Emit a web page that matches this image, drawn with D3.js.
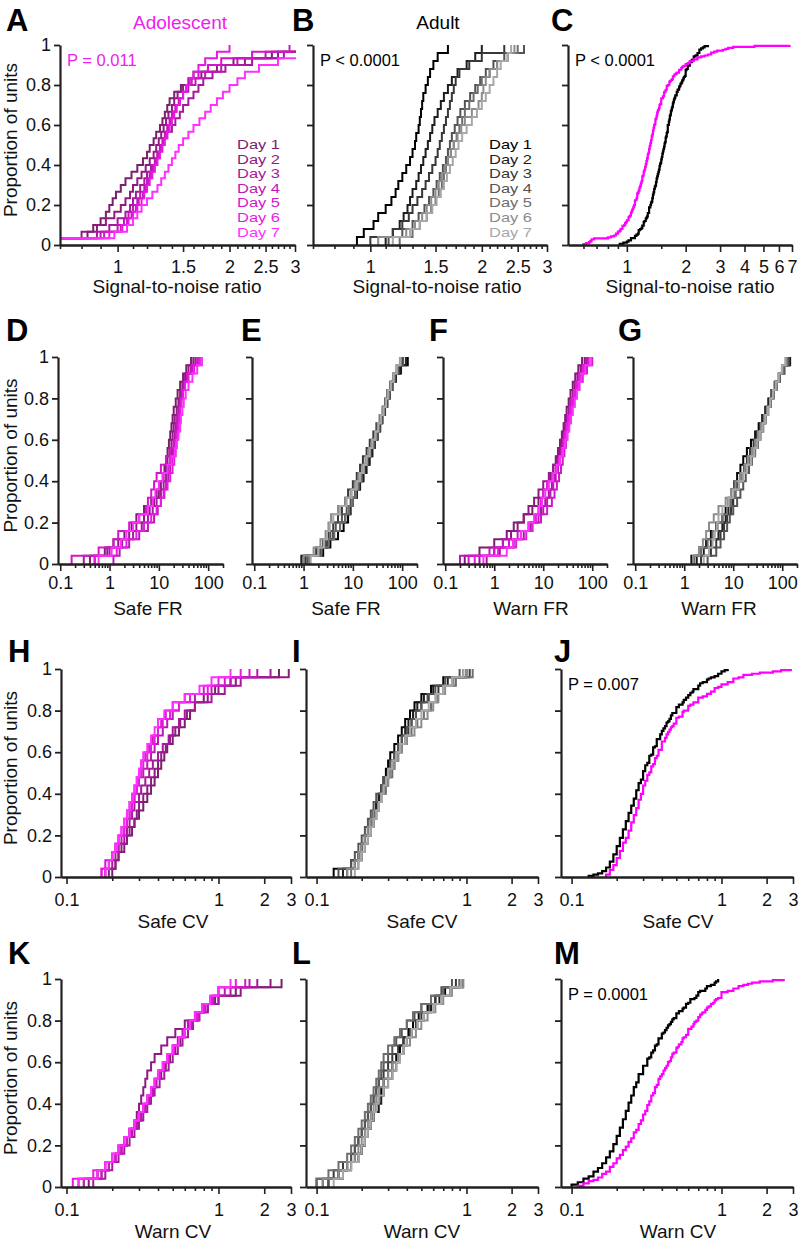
<!DOCTYPE html>
<html><head><meta charset="utf-8">
<script src="https://cdn.jsdelivr.net/npm/d3@7"></script>
<style>
body{margin:0;background:#fff}
svg{display:block}
text{font-family:"Liberation Sans",Arial,Helvetica,sans-serif}
</style>
</head><body>
<svg id="c" width="800" height="1243"></svg>
<script>
// ---------------- DATA ----------------
const dayLabels = ['Day 1','Day 2','Day 3','Day 4','Day 5','Day 6','Day 7'];
const groupTitles = ['Adolescent','Adult'];
const propTicks = [0,0.2,0.4,0.6,0.8,1];
const snrTicks = [1,1.5,2,2.5,3];
const snrPoolTicks = [1,2,3,4,5,6,7];
const frTicks = [0.1,1,10,100];
const cvTicks = [0.1,1,2,3];
const pA = 'P = 0.011', pB = 'P < 0.0001', pC = 'P < 0.0001', pJ = 'P = 0.007', pM = 'P = 0.0001';

// Signal-to-noise ratio, adolescent days 1-7
const adoSNR = [
 [0.62,0.83,0.86,0.9,0.93,0.95,0.97,0.99,1.02,1.05,1.09,1.13,1.17,1.2,1.22,1.25,1.27,1.3,1.32,1.34,1.36,1.38,1.42,1.48,1.55,1.6,1.75,2.05,2.6,3.2],
 [0.65,0.8,0.88,0.93,0.98,1.02,1.05,1.08,1.1,1.13,1.16,1.19,1.22,1.25,1.27,1.29,1.31,1.33,1.35,1.37,1.4,1.42,1.45,1.5,1.58,1.68,1.85,2.2,2.7,3.1],
 [0.6,0.88,0.95,1.0,1.05,1.08,1.1,1.12,1.15,1.18,1.2,1.23,1.26,1.28,1.3,1.33,1.36,1.4,1.43,1.47,1.5,1.55,1.6,1.65,1.7,1.8,1.95,2.3,2.8,3.5],
 [0.66,0.9,1.0,1.04,1.07,1.1,1.13,1.15,1.18,1.2,1.22,1.24,1.26,1.28,1.3,1.32,1.34,1.36,1.38,1.4,1.43,1.46,1.5,1.55,1.62,1.72,1.9,2.1,2.5,3.3],
 [0.68,0.92,1.02,1.06,1.09,1.12,1.14,1.17,1.19,1.21,1.23,1.25,1.27,1.29,1.31,1.33,1.35,1.37,1.39,1.41,1.44,1.47,1.5,1.53,1.58,1.65,1.75,1.9,2.3,2.9],
 [0.64,0.95,1.03,1.07,1.1,1.13,1.16,1.18,1.2,1.22,1.24,1.26,1.28,1.3,1.32,1.34,1.36,1.38,1.4,1.42,1.44,1.47,1.5,1.53,1.56,1.6,1.65,1.72,1.85,2.0],
 [0.66,0.98,1.06,1.1,1.13,1.16,1.2,1.24,1.28,1.31,1.34,1.37,1.4,1.43,1.46,1.5,1.55,1.6,1.66,1.72,1.78,1.85,1.92,2.0,2.1,2.2,2.4,2.7,4.5,6.8]
];
// Signal-to-noise ratio, adult days 1-7
const adultSNR = [
 [0.92,0.96,1.02,1.05,1.1,1.14,1.17,1.19,1.22,1.25,1.28,1.3,1.32,1.33,1.35,1.36,1.37,1.38,1.39,1.41,1.43,1.45,1.48,1.52,1.62],
 [1.1,1.15,1.2,1.23,1.26,1.28,1.3,1.33,1.35,1.37,1.39,1.41,1.43,1.45,1.47,1.49,1.52,1.55,1.58,1.62,1.66,1.72,1.82,1.92,2.0],
 [1.0,1.15,1.22,1.27,1.3,1.34,1.38,1.41,1.44,1.47,1.5,1.52,1.54,1.56,1.58,1.6,1.62,1.64,1.66,1.68,1.7,1.74,1.85,2.0,2.3],
 [1.12,1.22,1.3,1.35,1.4,1.44,1.48,1.51,1.54,1.57,1.6,1.62,1.64,1.66,1.69,1.72,1.75,1.8,1.86,1.92,1.98,2.05,2.15,2.3,2.6],
 [1.2,1.3,1.36,1.42,1.46,1.5,1.53,1.56,1.58,1.6,1.62,1.65,1.68,1.71,1.74,1.77,1.8,1.85,1.9,1.95,2.0,2.1,2.2,2.35,2.5],
 [1.05,1.25,1.32,1.38,1.42,1.46,1.5,1.53,1.56,1.59,1.62,1.65,1.68,1.72,1.76,1.8,1.88,1.96,2.0,2.02,2.05,2.1,2.2,2.35,2.45],
 [1.15,1.28,1.36,1.42,1.47,1.51,1.55,1.58,1.61,1.64,1.67,1.7,1.73,1.77,1.82,1.88,1.94,2.0,2.05,2.1,2.15,2.2,2.25,2.35,2.4]
];
// Safe FR
const adoSafeFR = [
 [0.4,0.8,1.2,2.0,2.8,3.5,5.0,7.0,9.0,10.5,12,13,14,15,16,17,18,19,20,22,24,27,31,36,45],
 [0.5,0.9,1.5,2.5,3.5,5,6.5,8,10,11,12.5,14,15,16.5,18,19,20,21,23,25,27,30,34,40,50],
 [0.3,1.0,1.8,3.0,4.5,6,7.5,9,11,12.5,14,15.5,17,18.5,20,21,22,23.5,25,27,29,32,38,45,55],
 [1.2,1.6,2.5,4,6,8,9.5,11,12.5,14,15.5,17,18.5,20,21,22,23,24,26,28,30,33,37,45,60],
 [0.17,0.6,1.2,1.5,2.5,4,5.5,6,7,8,9,11,14,17,20,22,24,26,27,28,30,33,38,48,62],
 [0.5,1.4,2.2,3.5,5,7,9,11,13,15,17,19,20.5,22,23,24,25,26,27,29,31,34,40,52,68],
 [0.6,1.1,1.7,2.2,3,4,6,7.5,8.5,10,12,15,18,21,23,25,27,28,30,32,35,40,48,60,75]
];
const adultSafeFR = [
 [1.0,2.5,3.5,5,6.5,8,9,10,12,14,16,18,21,24,27,30,34,38,43,48,55,62,72,90,130],
 [0.9,2.2,3,4,5.5,7,8.5,10,12,14,16.5,19,22,25,28,32,36,40,45,50,56,64,75,95,120],
 [1.1,1.8,2.5,3.2,4,5,6,7,8,10,12,14,16,19,22,26,30,35,40,45,50,57,66,80,100],
 [1.2,2.0,2.8,3.5,4.5,6,7.5,9,11,13,15,17,20,23,27,31,35,39,44,50,56,63,72,85,105],
 [1.3,2.3,3.2,4.2,5.5,7,8.5,10,11.5,13,15,17,19.5,22,25,29,33,37,42,47,53,60,68,80,95],
 [1.0,1.6,2.2,2.8,3.2,3.6,5,7,9,11,13,15.5,18,21,24,28,32,36,41,46,52,58,66,76,90],
 [1.4,2.0,2.6,3.0,3.4,4,5.5,7.5,9.5,12,14,16.5,19,22,25,29,33,37,42,47,52,59,67,78,92]
];
// Warn FR
const adoWarnFR = [
 [0.25,0.5,1.0,1.8,2.5,4,6,8,10,12,14,16,18,20,22,24,26,28,30,33,36,40,45,52,62],
 [0.5,1.0,1.5,2.2,3,4,5,6.5,8,10,13,16,19,21,23,25,27,30,33,36,40,44,50,58,70],
 [0.7,1.3,2.5,4,5.5,7,9,11,13,15,17,19,21,23,25,27,29,31,34,37,41,46,52,62,75],
 [0.2,0.8,1.5,3,5,8,10,12,14,16,18,20,22,24,26,28,30,33,36,40,45,50,58,68,80],
 [0.3,1.0,2.0,3.5,6,9,12,15,17,19,21,23,25,27,29,31,33,36,39,43,48,55,64,78,100],
 [0.4,1.2,2.8,4.5,6,7,8,9,10,12,15,18,21,24,26,28,30,32,35,38,42,47,54,65,85],
 [0.6,1.8,2.4,3.5,5,6.5,8,9.5,11,13,16,19,22,25,28,31,34,37,40,44,48,53,60,72,95]
];
const adultWarnFR = [
 [1.4,2.0,2.8,3.5,4.5,6,7,8,9,10.5,12,14,16,19,23,28,33,39,45,52,60,70,85,105,140],
 [1.8,2.5,3.5,5,6,7,8,9.5,11,13,15,17,20,24,28,33,38,44,50,57,65,75,90,110,145],
 [2.2,3.5,4.5,5.5,6.5,7.5,9,10,11,12,14,16.5,19,22,26,30,35,41,47,55,63,72,85,100,130],
 [3.0,4.5,5.5,6.5,7.5,8.5,10,12,14,16,18,21,24,28,32,36,41,46,52,59,67,77,90,110,135],
 [1.6,2.2,3.0,3.8,4.8,6.0,7.5,9,11,13,15,18,21,25,29,34,39,45,51,58,66,76,88,105,125],
 [1.5,2.0,2.4,2.8,3.2,4,5,7,9,11,14,17,20,24,28,32,37,43,49,56,64,74,86,100,120],
 [2.5,3.2,3.8,4.2,4.6,5,6,8,10,13,16,19,23,27,31,35,40,45,51,57,64,73,84,98,115]
];
// Safe CV
const adoSafeCV = [
 [0.2,0.21,0.22,0.24,0.25,0.27,0.28,0.3,0.32,0.34,0.36,0.38,0.4,0.42,0.44,0.46,0.5,0.55,0.6,0.65,0.7,0.8,0.95,1.2,2.5],
 [0.19,0.21,0.22,0.23,0.25,0.26,0.28,0.29,0.3,0.32,0.34,0.36,0.38,0.4,0.42,0.45,0.48,0.52,0.56,0.62,0.7,0.85,1.0,1.3,2.9],
 [0.18,0.2,0.21,0.22,0.24,0.25,0.26,0.27,0.28,0.3,0.31,0.33,0.35,0.37,0.4,0.43,0.47,0.5,0.55,0.6,0.7,0.9,1.1,1.4,2.2],
 [0.18,0.19,0.2,0.22,0.23,0.24,0.25,0.26,0.27,0.28,0.29,0.3,0.32,0.34,0.36,0.38,0.4,0.43,0.46,0.5,0.55,0.7,0.9,1.2,1.8],
 [0.17,0.18,0.2,0.21,0.22,0.23,0.24,0.25,0.26,0.27,0.28,0.29,0.3,0.31,0.33,0.35,0.37,0.4,0.42,0.45,0.5,0.6,0.8,1.1,1.6],
 [0.17,0.19,0.2,0.21,0.22,0.24,0.25,0.26,0.27,0.28,0.29,0.3,0.31,0.32,0.34,0.36,0.38,0.4,0.43,0.48,0.55,0.65,0.85,1.0,1.4],
 [0.18,0.19,0.2,0.21,0.22,0.23,0.24,0.25,0.26,0.27,0.28,0.29,0.3,0.31,0.32,0.34,0.36,0.38,0.4,0.44,0.5,0.6,0.75,0.9,1.2]
];
const adultSafeCV = [
 [0.13,0.17,0.19,0.2,0.21,0.22,0.23,0.24,0.25,0.26,0.27,0.28,0.29,0.3,0.31,0.33,0.35,0.37,0.39,0.42,0.45,0.5,0.58,0.7,0.95],
 [0.15,0.18,0.19,0.2,0.21,0.22,0.23,0.24,0.25,0.26,0.27,0.28,0.3,0.31,0.33,0.35,0.37,0.39,0.41,0.44,0.47,0.52,0.6,0.75,1.0],
 [0.16,0.18,0.2,0.21,0.22,0.23,0.24,0.25,0.26,0.27,0.28,0.3,0.31,0.33,0.35,0.37,0.39,0.41,0.43,0.46,0.5,0.56,0.65,0.8,1.05],
 [0.14,0.17,0.18,0.19,0.2,0.21,0.22,0.23,0.24,0.25,0.27,0.28,0.3,0.31,0.33,0.35,0.37,0.4,0.43,0.46,0.5,0.55,0.62,0.72,0.9],
 [0.17,0.19,0.2,0.21,0.22,0.23,0.24,0.25,0.26,0.27,0.29,0.3,0.32,0.33,0.35,0.37,0.4,0.43,0.47,0.52,0.58,0.64,0.7,0.85,1.1],
 [0.16,0.18,0.19,0.2,0.21,0.22,0.23,0.24,0.26,0.27,0.28,0.3,0.31,0.33,0.35,0.37,0.4,0.45,0.5,0.55,0.6,0.65,0.72,0.82,1.0],
 [0.18,0.19,0.2,0.21,0.22,0.23,0.24,0.25,0.26,0.27,0.28,0.29,0.3,0.32,0.34,0.36,0.39,0.42,0.46,0.5,0.56,0.62,0.7,0.8,0.95]
];
// Warn CV
const adoWarnCV = [
 [0.14,0.17,0.19,0.21,0.23,0.25,0.27,0.29,0.31,0.33,0.35,0.37,0.39,0.42,0.45,0.48,0.52,0.56,0.6,0.66,0.72,0.8,0.95,1.3,2.6],
 [0.13,0.16,0.18,0.2,0.22,0.24,0.26,0.28,0.29,0.3,0.31,0.32,0.33,0.34,0.36,0.38,0.42,0.46,0.52,0.6,0.7,0.85,1.0,1.4,2.2],
 [0.15,0.18,0.2,0.22,0.24,0.26,0.28,0.3,0.32,0.34,0.36,0.38,0.41,0.44,0.47,0.5,0.54,0.58,0.63,0.68,0.75,0.85,1.0,1.2,1.8],
 [0.12,0.16,0.19,0.21,0.23,0.25,0.27,0.29,0.31,0.33,0.35,0.37,0.39,0.41,0.44,0.47,0.5,0.54,0.58,0.63,0.7,0.78,0.9,1.1,1.6],
 [0.13,0.17,0.19,0.21,0.23,0.25,0.26,0.28,0.3,0.32,0.34,0.36,0.38,0.4,0.43,0.46,0.5,0.55,0.6,0.66,0.74,0.82,0.92,1.0,1.5],
 [0.11,0.15,0.18,0.2,0.22,0.24,0.26,0.28,0.3,0.32,0.34,0.36,0.38,0.41,0.44,0.47,0.51,0.55,0.6,0.65,0.72,0.8,0.9,1.0,1.3],
 [0.12,0.16,0.18,0.2,0.22,0.24,0.26,0.28,0.3,0.32,0.34,0.36,0.38,0.4,0.43,0.46,0.5,0.55,0.6,0.65,0.7,0.78,0.88,1.0,1.2]
];
const adultWarnCV = [
 [0.12,0.15,0.17,0.19,0.2,0.21,0.22,0.23,0.24,0.25,0.26,0.27,0.28,0.3,0.32,0.34,0.36,0.38,0.41,0.44,0.48,0.55,0.62,0.72,0.95],
 [0.11,0.14,0.16,0.18,0.2,0.21,0.22,0.23,0.24,0.26,0.27,0.28,0.3,0.32,0.34,0.36,0.38,0.4,0.43,0.47,0.52,0.58,0.66,0.78,0.9],
 [0.1,0.13,0.15,0.17,0.18,0.19,0.2,0.21,0.22,0.23,0.24,0.25,0.26,0.28,0.3,0.32,0.35,0.38,0.42,0.46,0.5,0.56,0.62,0.7,0.85],
 [0.12,0.14,0.16,0.17,0.18,0.19,0.2,0.21,0.22,0.23,0.24,0.25,0.26,0.27,0.28,0.3,0.32,0.34,0.37,0.4,0.45,0.5,0.58,0.68,0.8],
 [0.1,0.12,0.14,0.16,0.17,0.18,0.19,0.2,0.21,0.22,0.23,0.24,0.25,0.26,0.27,0.28,0.3,0.33,0.36,0.4,0.44,0.5,0.58,0.7,0.9],
 [0.11,0.14,0.16,0.18,0.19,0.2,0.21,0.22,0.23,0.24,0.25,0.26,0.28,0.3,0.32,0.35,0.38,0.42,0.46,0.5,0.55,0.62,0.7,0.8,0.95],
 [0.13,0.15,0.17,0.19,0.2,0.21,0.22,0.23,0.24,0.25,0.26,0.28,0.3,0.32,0.34,0.36,0.38,0.4,0.43,0.47,0.52,0.6,0.68,0.78,0.92]
];

// ---------------- STYLE ----------------
const adoColors = ['#7a1f6c','#8e1b82','#a51a9b','#bd18b4','#d316cb','#e81ae2','#ff30ff'];
const adultColors = ['#000000','#1e1e1e','#383838','#545454','#6e6e6e','#8c8c8c','#a8a8a8'];
const MAG = '#ff00ff', PMAG = '#ee22ee', AX = '#231f20';
const FONT = '"Liberation Sans",Arial,Helvetica,sans-serif';

const svg = d3.select('#c');
const defs = svg.append('defs');
const pool = arrs => [].concat(...arrs);

function ecdf(vals){
  const s = vals.slice().sort(d3.ascending), n = s.length;
  const pts = [[s[0],0]];
  s.forEach((v,i)=>pts.push([v,(i+1)/n]));
  return pts;
}
function range01(a,b,step){ return d3.range(a,b+1e-9,step).map(v=>+v.toFixed(3)); }
const snrMinor = range01(0.7,3,0.1).filter(v=>!snrTicks.includes(v));
const frMinor = [];
[0.1,1,10,100].forEach(d=>{ for(let k=2;k<=9;k++){ const v=+(k*d).toPrecision(3); if(v<=200) frMinor.push(v);} });
const cvMinor = range01(0.1,0.9,0.1).filter(v=>!cvTicks.includes(v));
const snrPoolMinor = [0.6,0.7,0.8,0.9,1.5];

function panel(c){
  const x = d3.scaleLog().domain(c.dom).range([c.x0,c.x1]);
  const y = d3.scaleLinear().domain([0,1]).range([c.y0,c.y1]);
  const g = svg.append('g');
  const cid = 'clip'+c.id;
  defs.append('clipPath').attr('id',cid).append('rect')
    .attr('x',c.x0).attr('y',c.y1-3).attr('width',c.x1-c.x0+1).attr('height',c.y0-c.y1+4);
  const line = d3.line().x(d=>x(d[0])).y(d=>y(d[1])).curve(d3.curveStepAfter);
  const cg = g.append('g').attr('clip-path',`url(#${cid})`);
  c.series.forEach((vals,i)=>{
    cg.append('path').attr('d',line(ecdf(vals))).attr('fill','none')
      .attr('stroke',c.colors[i]).attr('stroke-width',c.sw||2).attr('stroke-linejoin','miter');
  });
  // x axis
  const xMin = d3.axisBottom(x).tickValues(c.minor).tickSize(4).tickFormat('').tickSizeOuter(0);
  const xMaj = d3.axisBottom(x).tickValues(c.major).tickSize(7).tickPadding(c.tp)
    .tickFormat(d=>String(d)).tickSizeOuter(0);
  const gx1 = g.append('g').attr('transform',`translate(0,${c.y0})`).call(xMin);
  const gx2 = g.append('g').attr('transform',`translate(0,${c.y0})`).call(xMaj);
  [gx1,gx2].forEach(a=>{
    a.select('.domain').attr('stroke',AX).attr('stroke-width',2.2);
    a.selectAll('.tick line').attr('stroke',AX).attr('stroke-width',1.6);
    a.selectAll('text').attr('font-family',FONT).attr('font-size',18).attr('fill','#111');
  });
  // y axis
  const yAx = d3.axisLeft(y).tickValues(propTicks).tickSize(6).tickPadding(3).tickSizeOuter(0)
    .tickFormat(c.yLab ? (d=> d===0?'0':d===1?'1':d.toFixed(1)) : '');
  const gy = g.append('g').attr('transform',`translate(${c.x0},0)`).call(yAx);
  gy.select('.domain').attr('stroke',AX).attr('stroke-width',2.2);
  gy.selectAll('.tick line').attr('stroke',AX).attr('stroke-width',1.8);
  gy.selectAll('text').attr('font-family',FONT).attr('font-size',18).attr('fill','#111');
  // x title
  g.append('text').attr('x',c.tx).attr('y',c.ty).attr('text-anchor','middle')
    .attr('font-size',19).attr('fill','#111').text(c.title);
  if(c.yLab){
    g.append('text').attr('transform',`translate(17,${(c.y0+c.y1)/2-5}) rotate(-90)`)
      .attr('text-anchor','middle').attr('font-size',19).attr('fill','#111').text('Proportion of units');
  }
  // panel letter
  g.append('text').attr('x',c.lx).attr('y',c.ly).attr('font-size',31).attr('font-weight','bold')
    .attr('fill','#000').text(c.id);
  if(c.p){
    g.append('text').attr('x',c.x0+7).attr('y',c.y1+21).attr('font-size',16.5)
      .attr('fill',c.pColor||'#000').text(c.p);
  }
  if(c.legend){
    dayLabels.forEach((t,i)=>{
      g.append('text').attr('x',c.legend).attr('y',149+i*14.6).attr('font-size',13)
        .attr('textLength',43).attr('lengthAdjust','spacingAndGlyphs')
        .attr('fill',c.colors[i]).text(t);
    });
  }
  return g;
}

const R1 = {y0:245,y1:45,tp:8,ty:293,ly:31};
const R2 = {y0:564,y1:357,tp:5,ty:615,ly:341};
const R3 = {y0:877,y1:669,tp:9,ty:928,ly:662};
const R4 = {y0:1187,y1:979,tp:9,ty:1238,ly:964};
const colH = {x0:61,x1:291,dom:[0.092,3]};
const colI = {x0:306,x1:538,dom:[0.085,3]};
const colJ = {x0:561,x1:793,dom:[0.085,3]};

const panels = [
 Object.assign({id:'A',series:adoSNR,colors:adoColors,x0:60,x1:295,dom:[0.7,3],major:snrTicks,minor:snrMinor,yLab:true,
   title:'Signal-to-noise ratio',tx:177,lx:6,p:pA,pColor:PMAG,legend:237},R1),
 Object.assign({id:'B',series:adultSNR,colors:adultColors,x0:313,x1:547,dom:[0.7,3],major:snrTicks,minor:snrMinor,
   title:'Signal-to-noise ratio',tx:437,lx:292,p:pB,legend:489},R1),
 Object.assign({id:'C',series:[pool(adultSNR),pool(adoSNR)],colors:['#000',MAG],sw:2.2,x0:568,x1:792,dom:[0.5,7],
   major:snrPoolTicks,minor:snrPoolMinor,title:'Signal-to-noise ratio',tx:690,lx:551,p:pC},R1),
 Object.assign({id:'D',series:adoSafeFR,colors:adoColors,x0:58,x1:223,dom:[0.09,200],major:frTicks,minor:frMinor,yLab:true,
   title:'Safe FR',tx:148,lx:6},R2),
 Object.assign({id:'E',series:adultSafeFR,colors:adultColors,x0:252,x1:417,dom:[0.09,200],major:frTicks,minor:frMinor,
   title:'Safe FR',tx:346,lx:241},R2),
 Object.assign({id:'F',series:adoWarnFR,colors:adoColors,x0:443,x1:607,dom:[0.09,200],major:frTicks,minor:frMinor,
   title:'Warn FR',tx:531,lx:429},R2),
 Object.assign({id:'G',series:adultWarnFR,colors:adultColors,x0:633,x1:797,dom:[0.09,200],major:frTicks,minor:frMinor,
   title:'Warn FR',tx:719,lx:618},R2),
 Object.assign({id:'H',series:adoSafeCV,colors:adoColors,major:cvTicks,minor:cvMinor,yLab:true,title:'Safe CV',tx:173,lx:8},colH,R3),
 Object.assign({id:'I',series:adultSafeCV,colors:adultColors,major:cvTicks,minor:cvMinor,title:'Safe CV',tx:422,lx:292},colI,R3),
 Object.assign({id:'J',series:[pool(adultSafeCV),pool(adoSafeCV)],colors:['#000',MAG],sw:2.2,major:cvTicks,minor:cvMinor,
   title:'Safe CV',tx:678,lx:554,p:pJ},colJ,R3),
 Object.assign({id:'K',series:adoWarnCV,colors:adoColors,major:cvTicks,minor:cvMinor,yLab:true,title:'Warn CV',tx:173,lx:8},colH,R4),
 Object.assign({id:'L',series:adultWarnCV,colors:adultColors,major:cvTicks,minor:cvMinor,title:'Warn CV',tx:422,lx:292},colI,R4),
 Object.assign({id:'M',series:[pool(adultWarnCV),pool(adoWarnCV)],colors:['#000',MAG],sw:2.2,major:cvTicks,minor:cvMinor,
   title:'Warn CV',tx:678,lx:554,p:pM},colJ,R4)
];
panels.forEach(panel);

// group titles
svg.append('text').attr('x',180).attr('y',29).attr('text-anchor','middle').attr('font-size',19)
  .attr('fill',PMAG).text(groupTitles[0]);
svg.append('text').attr('x',438).attr('y',29).attr('text-anchor','middle').attr('font-size',19)
  .attr('fill','#000').text(groupTitles[1]);
</script>
</body></html>
